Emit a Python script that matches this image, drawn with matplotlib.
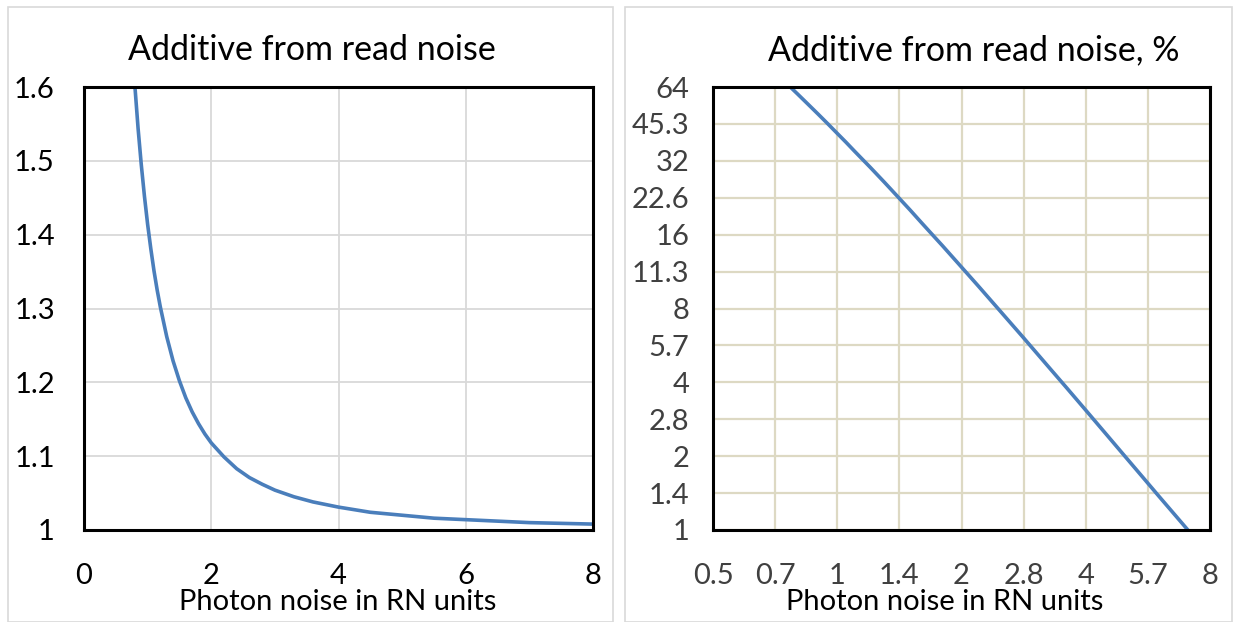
import matplotlib.pyplot as plt
from matplotlib.patches import Rectangle

# photon noise (RN units) and the read-noise factor
photon = [0.75, 0.8, 0.85, 0.9, 0.95, 1.0, 1.05, 1.1, 1.15, 1.2, 1.3, 1.4, 1.5,
          1.6, 1.7, 1.8, 1.9, 2.0, 2.2, 2.4, 2.6, 2.8, 3.0, 3.3, 3.6, 4.0,
          4.5, 5.0, 5.5, 6.0, 7.0, 8.0]
factor = [1.667, 1.601, 1.544, 1.495, 1.452, 1.414, 1.381, 1.351, 1.325, 1.302,
          1.262, 1.229, 1.202, 1.179, 1.160, 1.144, 1.130, 1.118, 1.099, 1.083,
          1.071, 1.062, 1.054, 1.045, 1.038, 1.031, 1.024, 1.020, 1.016, 1.014,
          1.010, 1.008]
percent = [66.7, 60.1, 54.4, 49.5, 45.2, 41.4, 38.1, 35.1, 32.5, 30.2,
           26.2, 22.9, 20.2, 17.9, 16.0, 14.4, 13.0, 11.8, 9.85, 8.33,
           7.14, 6.19, 5.41, 4.49, 3.79, 3.08, 2.44, 1.98, 1.64, 1.38,
           1.02, 0.78]

left_xticks = [0, 2, 4, 6, 8]
left_yticks = [1.0, 1.1, 1.2, 1.3, 1.4, 1.5, 1.6]
left_ylabels = ['1', '1.1', '1.2', '1.3', '1.4', '1.5', '1.6']
right_xticks = [0.5, 0.707, 1, 1.414, 2, 2.828, 4, 5.657, 8]
right_xlabels = ['0.5', '0.7', '1', '1.4', '2', '2.8', '4', '5.7', '8']
right_yticks = [1, 1.414, 2, 2.828, 4, 5.657, 8, 11.31, 16, 22.63, 32, 45.25, 64]
right_ylabels = ['1', '1.4', '2', '2.8', '4', '5.7', '8', '11.3', '16', '22.6', '32', '45.3', '64']

plt.rcParams['font.family'] = ['Lato', 'DejaVu Sans']

W, H = 1237, 622
fig = plt.figure(figsize=(W / 100, H / 100), dpi=100)

# chart area borders
for x0, x1 in [(8, 613), (625, 1232)]:
    fig.patches.append(Rectangle((x0 / W, 0), (x1 - x0) / W, (H - 7) / H,
                                 transform=fig.transFigure, fill=False,
                                 edgecolor='#d9d9d9', linewidth=1.2))

line_color = '#4a7ebb'

# left chart
ax1 = fig.add_axes([84 / W, (H - 530) / H, (593 - 84) / W, (530 - 87) / H])
ax1.plot(photon, factor, color=line_color, linewidth=2.6)
ax1.set_xlim(0, 8)
ax1.set_ylim(1, 1.6)
ax1.set_xticks(left_xticks)
ax1.set_xticklabels([str(t) for t in left_xticks])
ax1.set_yticks(left_yticks)
ax1.set_yticklabels(left_ylabels)
ax1.grid(True, color='#d9d9d9', linewidth=1.3)
ax1.set_axisbelow(True)
ax1.tick_params(length=0, labelsize=21, colors='black')
ax1.tick_params(axis='x', pad=24)
ax1.tick_params(axis='y', pad=21)
for s in ax1.spines.values():
    s.set_linewidth(2.2)
    s.set_color('black')

# right chart
ax2 = fig.add_axes([713 / W, (H - 530) / H, (1210 - 713) / W, (530 - 87) / H])
ax2.plot(photon, percent, color=line_color, linewidth=2.6)
ax2.set_xscale('log', base=2)
ax2.set_yscale('log', base=2)
ax2.set_xlim(0.5, 8)
ax2.set_ylim(1, 64)
ax2.set_xticks(right_xticks)
ax2.set_xticklabels(right_xlabels)
ax2.set_yticks(right_yticks)
ax2.set_yticklabels(right_ylabels)
ax2.minorticks_off()
ax2.grid(True, color='#ddd9c3', linewidth=1.6)
ax2.set_axisbelow(True)
ax2.tick_params(length=0, labelsize=21, colors='#404040')
ax2.tick_params(axis='x', pad=24)
ax2.tick_params(axis='y', pad=17)
for s in ax2.spines.values():
    s.set_linewidth(2.2)
    s.set_color('black')

# titles and axis labels
fig.text(312 / W, 1 - 50 / H, 'Additive from read noise', ha='center', va='center', fontsize=24.5)
fig.text(974 / W, 1 - 50 / H, 'Additive from read noise, %', ha='center', va='center', fontsize=24.5)
fig.text(338 / W, 1 - 602 / H, 'Photon noise in RN units', ha='center', va='center', fontsize=21)
fig.text(945 / W, 1 - 602 / H, 'Photon noise in RN units', ha='center', va='center', fontsize=21)

fig.savefig('out.png', dpi=100)
